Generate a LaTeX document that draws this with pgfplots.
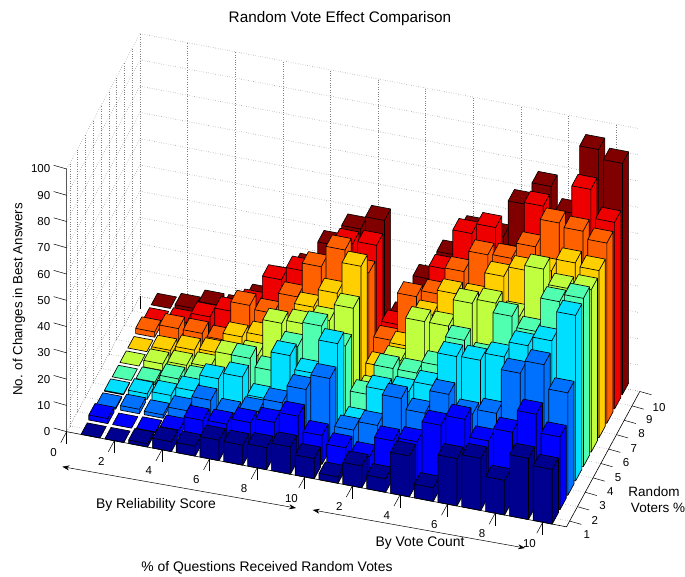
\documentclass[border=0pt]{standalone}
\usepackage{pgfplots}
\usepackage{pgfplotstable}
\usepackage{fontspec}
\setmainfont{Liberation Sans}
\pgfplotsset{compat=1.18}
\usetikzlibrary{arrows.meta}
\definecolor{jet0}{rgb}{0,0,0.5625}
\definecolor{jet1}{rgb}{0,0,1}
\definecolor{jet2}{rgb}{0,0.4375,1}
\definecolor{jet3}{rgb}{0,0.875,1}
\definecolor{jet4}{rgb}{0.3125,1,0.6875}
\definecolor{jet5}{rgb}{0.75,1,0.25}
\definecolor{jet6}{rgb}{1,0.8125,0}
\definecolor{jet7}{rgb}{1,0.375,0}
\definecolor{jet8}{rgb}{0.9375,0,0}
\definecolor{jet9}{rgb}{0.5,0,0}
% rows: random voters 1..10, columns: 1..20
\pgfplotstableread{
0 0 1.3 3.7 3.8 7.8 7.6 8.4 10.4 7.7 2.4 8.3 5.2 15.6 5.2 18 19.8 13.2 23.3 20.8
1.9 0 0.3 2.7 8.1 8.4 10.7 12.5 16.6 11 8 6.4 14.1 15.5 23.5 27.5 21 26 34.6 27.7
0.5 1.7 1.3 4.6 10.3 7 9.4 14.5 21.3 27.2 9.3 12.8 24.8 20.9 29.8 24 26 43 48 39
0.3 2.1 3.2 6.6 13 15.4 8.9 27 22 35 7 20.7 22 26 38.7 39 42 48 51.6 63
0 1.1 4 5.2 4 17 14 25 34.5 28.6 11.8 23.5 23.5 28 39.4 34.6 52 48 61 64
0 2.5 3.7 4.8 11 12.7 26.6 28 31 37.5 8 21 37.6 37.6 48 49.8 46.6 66.2 60.6 61.8
0 2.2 4 4.7 12.5 14.5 15 29 36 48 11.5 21 34.6 44.4 44.4 54.5 58.4 60 64.8 63.6
2 5 4.9 4 19 17.7 25.7 38.9 47 40 16 34.4 37 47.4 55.5 55.9 62 72.8 71.4 68.6
0 1.7 5.7 9.4 14 25 30 32 44 45 16.4 22 41 56.4 60.4 50 72 60 81.8 71
0 1.7 4.7 4.7 10.4 19 25.6 36 44 49 14 30 41 52 51.5 65.4 74 65.4 91.5 88
}\bars
\newcommand{\Pxy}[2]{([shift={({(#1-66.7)*1pt},{(431.7-#2)*1pt})}]axis cs:0,0.6,0)}
\begin{document}
\begin{tikzpicture}
\begin{axis}[
  x={(23.8pt,-4.53pt)},y={(7.8pt,14.4pt)},z={(0pt,2.627pt)},
  xmin=0,xmax=21,ymin=0.6,ymax=10,zmin=0,zmax=100,
  clip=false,
  axis line style={draw=none},
  tick style={black,line width=0.5pt},
  major tick length=12.5pt,
  tick align=outside,
  xtick pos=left,ztick pos=left,
  ztick style={draw=none},
  ytick style={draw=none},
  grid=major,
  grid style={dotted,gray,line width=0.6pt},
  xtick={0,2,4,6,8,10,12,14,16,18,20},
  xticklabels={0,2,4,6,8,10,2,4,6,8,10},
  ytick={1,2,3,4,5,6,7,8,9,10},
  yticklabels={1,2,3,4,5,6,7,8,9,10},
  ztick={0,10,20,30,40,50,60,70,80,90,100},
  zticklabels={0,10,20,30,40,50,60,70,80,90,100},
  ticklabel style={font=\fontsize{11.5}{13}\selectfont},
  xticklabel style={xshift=-5pt,yshift=-1pt},
  yticklabel style={xshift=-1.5pt,yshift=-3.5pt},
  zticklabel style={anchor=east,xshift=-7pt,yshift=11pt},
  barst/.style={draw=black,line width=0.65pt,line join=round,forget plot},
  after end axis/.code={%
    \pgfresetboundingbox
    \path[use as bounding box] \Pxy{0}{0} rectangle \Pxy{685}{577};
  },
]
\pgfplotsforeachungrouped \r in {9,8,7,6,5,4,3,2,1,0}{%
 \pgfplotsforeachungrouped \c in {0,1,2,3,4,5,6,7,8,9,10,11,12,13,14,15,16,17,18,19}{%
  \pgfplotstablegetelem{\r}{[index]\c}\of\bars
  \let\h\pgfplotsretval
  \pgfmathsetmacro\xa{\c+1-.4}\pgfmathsetmacro\xb{\c+1+.4}%
  \pgfmathsetmacro\ya{\r+1-.4}\pgfmathsetmacro\yb{\r+1+.4}%
  \edef\doit{\noexpand\addplot3[barst,fill=jet\r] coordinates {(\xa,\ya,0)(\xb,\ya,0)(\xb,\yb,0)(\xb,\yb,\h)(\xa,\yb,\h)(\xa,\ya,\h)(\xb,\ya,\h)(\xb,\ya,0)(\xb,\ya,\h)(\xb,\yb,\h)(\xb,\ya,\h)(\xa,\ya,\h)(\xa,\ya,0)};}%
  \doit
 }%
}
\draw[black,line width=0.6pt] (axis cs:0,0.6,100) -- (axis cs:0,0.6,0) -- (axis cs:21,0.6,0) -- (axis cs:21,10,0);
\pgfplotsinvokeforeach{0,10,20,30,40,50,60,70,80,90,100}{
  \draw[black,line width=0.5pt] (axis cs:0,0.6,#1) -- ++(-13pt,3.7pt);
}
\pgfplotsinvokeforeach{1,2,3,4,5,6,7,8,9,10}{
  \draw[black,line width=0.5pt] (axis cs:21,#1,0) -- ++(11.7pt,-3.3pt);
}
\node[font=\fontsize{15.3}{18}\selectfont] at \Pxy{340}{19} {Random Vote Effect Comparison};
\node[font=\fontsize{13.3}{16}\selectfont,rotate=90] at \Pxy{19}{299.5} {No. of Changes in Best Answers};
\node[font=\fontsize{13.9}{16}\selectfont] at \Pxy{156}{505} {By Reliability Score};
\node[font=\fontsize{13.9}{16}\selectfont] at \Pxy{420}{543} {By Vote Count};
\node[font=\fontsize{13.9}{16}\selectfont] at \Pxy{267}{568} {\% of Questions Received Random Votes};
\node[font=\fontsize{13.5}{16}\selectfont] at \Pxy{654}{492} {Random};
\node[font=\fontsize{13.5}{16}\selectfont] at \Pxy{658}{508} {Voters \%};
\draw[{Stealth[length=7pt,width=5pt]}-{Stealth[length=7pt,width=5pt]},line width=0.5pt] \Pxy{62.3}{466.7} -- \Pxy{296}{508};
\draw[{Stealth[length=7pt,width=5pt]}-{Stealth[length=7pt,width=5pt]},line width=0.5pt] \Pxy{312.7}{510} -- \Pxy{525}{548};
\end{axis}
\end{tikzpicture}
\end{document}
